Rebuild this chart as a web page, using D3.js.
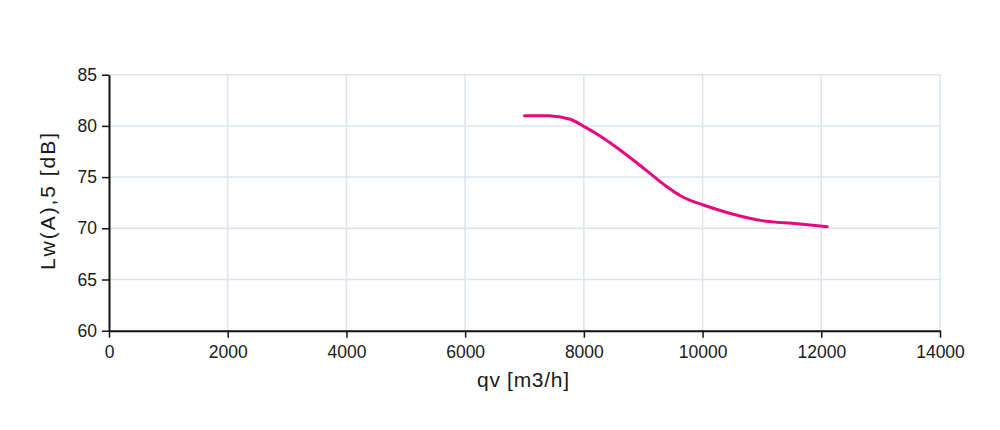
<!DOCTYPE html>
<html><head><meta charset="utf-8">
<script src="https://cdn.jsdelivr.net/npm/d3@7"></script>
<style>body{margin:0;background:#fff}svg{display:block}text{font-family:"Liberation Sans",Arial,sans-serif;fill:#1a1a1a}</style>
</head><body><svg id="c" width="1000" height="430"></svg>
<script>
const flow = [7000, 7400, 7770, 8000, 8330, 8610, 8890, 9170, 9400, 9620, 9800, 10000, 10500, 11000, 11600, 12100];
const soundLevel = [81.0, 81.0, 80.65, 79.95, 78.8, 77.65, 76.4, 75.1, 74.05, 73.2, 72.7, 72.3, 71.4, 70.75, 70.45, 70.15];
const xTicks = [0, 2000, 4000, 6000, 8000, 10000, 12000, 14000];
const yTicks = [60, 65, 70, 75, 80, 85];
const xTitle = "qv [m3/h]";
const yTitle = "Lw(A),5 [dB]";

const svg = d3.select("#c");
const L = 109, R = 940, T = 74.7, B = 330.7;
const x = d3.scaleLinear().domain([0, 14000]).range([L, R]);
const y = d3.scaleLinear().domain([60, 85]).range([B, T]);

// grid
svg.append("g").selectAll("line").data(xTicks.slice(1)).join("line")
  .attr("x1", d => x(d)).attr("x2", d => x(d)).attr("y1", T).attr("y2", B)
  .attr("stroke", "#dde4ee").attr("stroke-width", 1.5);
svg.append("g").selectAll("line").data(yTicks.slice(1)).join("line")
  .attr("x1", L).attr("x2", R).attr("y1", d => y(d)).attr("y2", d => y(d))
  .attr("stroke", "#dde4ee").attr("stroke-width", 1.5);

// axes
const xa = svg.append("g").attr("transform", `translate(0,${B})`)
  .call(d3.axisBottom(x).tickValues(xTicks).tickSize(7).tickSizeOuter(0).tickPadding(8).tickFormat(d3.format("d")));
const ya = svg.append("g").attr("transform", `translate(${L},0)`)
  .call(d3.axisLeft(y).tickValues(yTicks).tickSize(7).tickSizeOuter(0).tickPadding(5).tickFormat(d3.format("d")));
[xa, ya].forEach(g => {
  g.select(".domain").attr("stroke", "#111").attr("stroke-width", 2);
  g.selectAll(".tick line").attr("stroke", "#111").attr("stroke-width", 1.5);
  g.selectAll(".tick text").style("font-size", "17.5px").attr("fill", "#1a1a1a")
   .style("font-family", '"Liberation Sans",Arial,sans-serif');
});

// line
const line = d3.line().x((d, i) => x(flow[i])).y(d => y(d)).curve(d3.curveMonotoneX);
svg.append("path").attr("d", line(soundLevel)).attr("fill", "none")
  .attr("stroke", "#e5097f").attr("stroke-width", 3).attr("stroke-linecap", "round");

// titles
svg.append("text").attr("x", 477).attr("y", 387)
  .attr("textLength", 92).attr("lengthAdjust", "spacing")
  .style("font-size", "21px").text(xTitle);
svg.append("text").attr("transform", `translate(55,270) rotate(-90)`)
  .attr("textLength", 137).attr("lengthAdjust", "spacing")
  .style("font-size", "21px").text(yTitle);
</script></body></html>
